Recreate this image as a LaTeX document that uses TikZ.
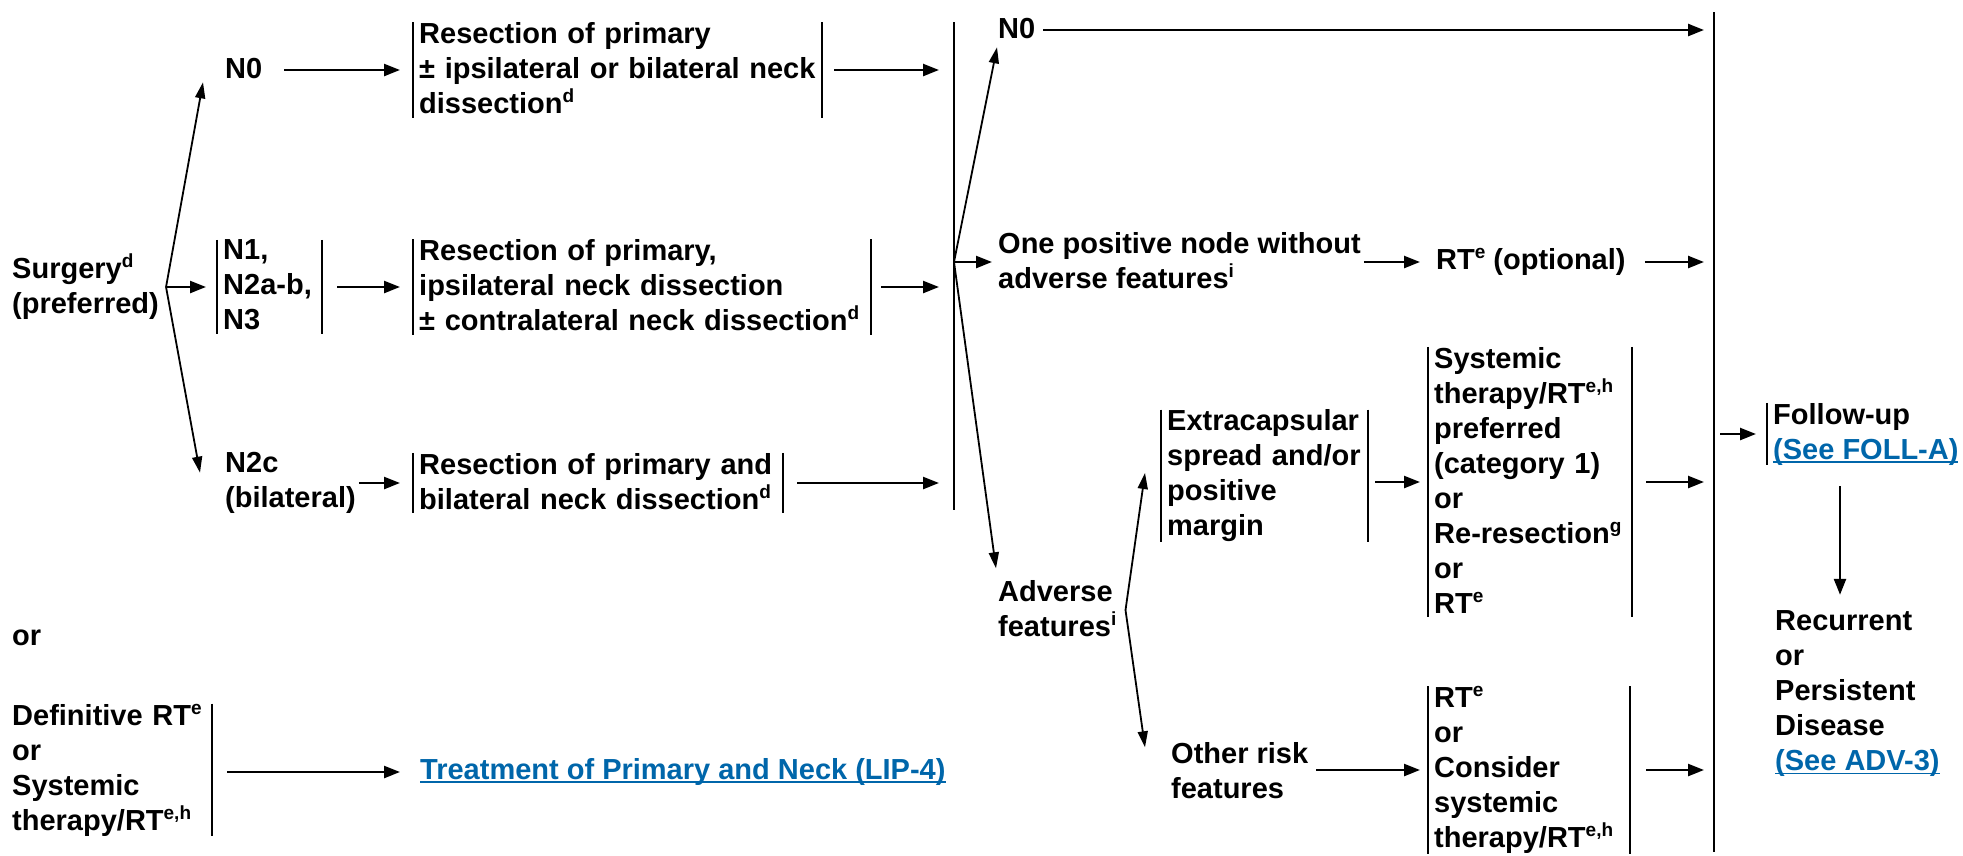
\documentclass[tikz,border=0pt]{standalone}
\usepackage{fontspec}
\setmainfont{Liberation Sans}
\usetikzlibrary{arrows.meta}
\definecolor{linkblue}{RGB}{0,102,170}
% superscript footnote letters
\newcommand\sps[1]{\raisebox{11pt}{\fontsize{19}{19}\selectfont #1}}
% underlined cross-reference in link colour
\newcommand\lnk[1]{\textcolor{linkblue}{\setbox0\hbox{#1}\rlap{\rule[-3.5pt]{\wd0}{1.8pt}}\box0}}
% fixed line height so every block has the same top/bottom extent
\newcommand\lstrut{\rule[-4pt]{0pt}{22pt}}
\begin{document}
\begin{tikzpicture}[x=1pt,y=-1pt,
  txt/.style={font=\fontsize{29}{35}\selectfont\bfseries, align=left,
    inner xsep=0pt, inner ysep=0pt, anchor=west,
    execute at begin node=\lstrut, execute at end node=\lstrut},
  bbox/.style={txt, inner xsep=6pt, text width=#1},
  arr/.style={line width=2.4pt, -{Triangle[length=16pt,width=12pt]}},
  fork/.style={line width=1.8pt, -{Triangle[length=16pt,width=10pt]}},
  barline/.style={line width=2pt},
  bigbar/.style={line width=2.2pt}]
\useasboundingbox (0,0) rectangle (1963,855);

% ---- left part: surgery branch
\node[txt] (surg) at (12,287) {Surgery\sps{d}\\(preferred)};
\node[txt] (n0a) at (225,70) {N0};
\node[bbox=93pt] (n1box) at (217,287) {N1,\\N2a-b,\\N3};
\node[txt] (n2c) at (225,483) {N2c\\(bilateral)};
\node[bbox=397pt] (box1) at (413,70) {Resection of primary\\± ipsilateral or bilateral neck\\dissection\sps{d}};
\node[bbox=446pt] (box2) at (413,287) {Resection of primary,\\ipsilateral neck dissection\\± contralateral neck dissection\sps{d}};
\node[bbox=358pt] (box3) at (413,483) {Resection of primary and\\bilateral neck dissection\sps{d}};

% ---- left part: non-surgical branch
\node[txt] (orlabel) at (12,638) {or};
\node[bbox=194pt] (defin) at (6,770) {Definitive RT\sps{e}\\or\\Systemic\\therapy/RT\sps{e,h}};
\node[txt] (treat) at (420,772) {\lnk{Treatment of Primary and Neck (LIP-4)}};

% ---- collecting bars
\coordinate (mtop) at (954,22);
\coordinate (mbot) at (954,510);
\coordinate (rtop) at (1714,12);
\coordinate (rbot) at (1714,852);
\draw[bigbar] (mtop) -- (mbot);
\draw[bigbar] (rtop) -- (rbot);

% ---- pathology results
\node[txt] (n0b) at (998,30) {N0};
\node[txt] (onepos) at (998,262) {One positive node without\\adverse features\sps{i}};
\node[txt] (rtopt) at (1436,262) {RT\sps{e} (optional)};
\node[txt] (adverse) at (998,610) {Adverse\\features\sps{i}};
\node[bbox=195pt] (extra) at (1161,476) {Extracapsular\\spread and/or\\positive\\margin};
\node[bbox=192pt] (sys) at (1428,482) {Systemic\\therapy/RT\sps{e,h}\\preferred\\(category 1)\\or\\Re-resection\sps{g}\\or\\RT\sps{e}};
\node[txt] (other) at (1171,772) {Other risk\\features};
\node[bbox=190pt] (rtbox) at (1428,770) {RT\sps{e}\\or\\Consider\\systemic\\therapy/RT\sps{e,h}};

% ---- follow-up
\node[txt, inner xsep=6pt] (follow) at (1767,434) {Follow-up\\\lnk{(See FOLL-A)}};
\node[txt] (recur) at (1775,694) {Recurrent\\or\\Persistent\\Disease\\\lnk{(See ADV-3)}};

% ---- bracket bars
\foreach \b in {n1box,box1,box2,box3,extra,sys,rtbox,follow}
  \draw[barline] (\b.north west) -- (\b.south west);
\foreach \b in {n1box,box1,box2,box3,extra,sys,rtbox,defin}
  \draw[barline] (\b.north east) -- (\b.south east);

% ---- surgery fork
\coordinate (sv) at ([xshift=7pt]surg.east);
\draw[fork] (sv) -- ([xshift=-22pt]n0a.south west);
\draw[arr, shorten >=11pt] (sv) -- (n1box.west);
\draw[fork] (sv) -- ([xshift=-25pt,yshift=-20.5pt]n2c.north west);

% ---- arrows into resection boxes
\draw[arr, shorten <=22pt, shorten >=13pt] (n0a.east) -- (n0a.east -| box1.west);
\draw[arr, shorten <=15pt, shorten >=13pt] (n1box.east) -- (box2.west);
\draw[arr, shorten <=3pt, shorten >=13pt] (n2c.east) -- (n2c.east -| box3.west);

% ---- arrows into the middle bar
\draw[arr, shorten <=12pt, shorten >=15pt] (box1.east) -- (box1.east -| mtop);
\draw[arr, shorten <=10pt, shorten >=15pt] (box2.east) -- (box2.east -| mtop);
\draw[arr, shorten <=14pt, shorten >=15pt] (box3.east) -- (box3.east -| mtop);

% ---- middle fork
\coordinate (mv) at (mtop |- onepos.west);
\draw[fork] (mv) -- ([xshift=-1pt,yshift=-5pt]n0b.south west);
\draw[arr, shorten >=6pt] (mv) -- (onepos.west);
\draw[fork] (mv) -- ([xshift=-2pt,yshift=11.5pt]adverse.north west);

% ---- adverse features fork
\coordinate (av) at ([xshift=9pt]adverse.east);
\draw[fork] (av) -- ([xshift=-16pt,yshift=3pt]extra.west);
\draw[fork] (av) -- ([xshift=-26pt,yshift=-5.5pt]other.north west);

% ---- arrows between treatment steps
\draw[arr, shorten <=3pt, shorten >=16pt] (onepos.east |- rtopt.west) -- (rtopt.west);
\draw[arr, shorten <=7pt, shorten >=8pt] (extra.east |- sys.west) -- (sys.west);
\draw[arr, shorten <=8pt, shorten >=8pt] (other.east |- rtbox.west) -- (rtbox.west);

% ---- arrows into the right bar
\draw[arr, shorten <=8pt, shorten >=10pt] (n0b.east) -- (n0b.east -| rtop);
\draw[arr, shorten <=19pt, shorten >=10pt] (rtopt.east) -- (rtopt.east -| rtop);
\draw[arr, shorten <=14pt, shorten >=10pt] (sys.east) -- (sys.east -| rtop);
\draw[arr, shorten <=16pt, shorten >=10pt] (rtbox.east) -- (rtbox.east -| rtop);

% ---- follow-up and recurrence
\draw[arr, shorten <=6pt, shorten >=11pt] (rtop |- follow.west) -- (follow.west);
\coordinate (fdown) at ([xshift=73pt,yshift=-21pt]follow.south west);
\draw[arr, shorten >=16pt] (fdown) -- (fdown |- recur.north);

% ---- non-surgical branch arrow
\draw[arr, shorten <=15pt, shorten >=20pt] (defin.east |- treat.west) -- (treat.west);
\end{tikzpicture}
\end{document}
